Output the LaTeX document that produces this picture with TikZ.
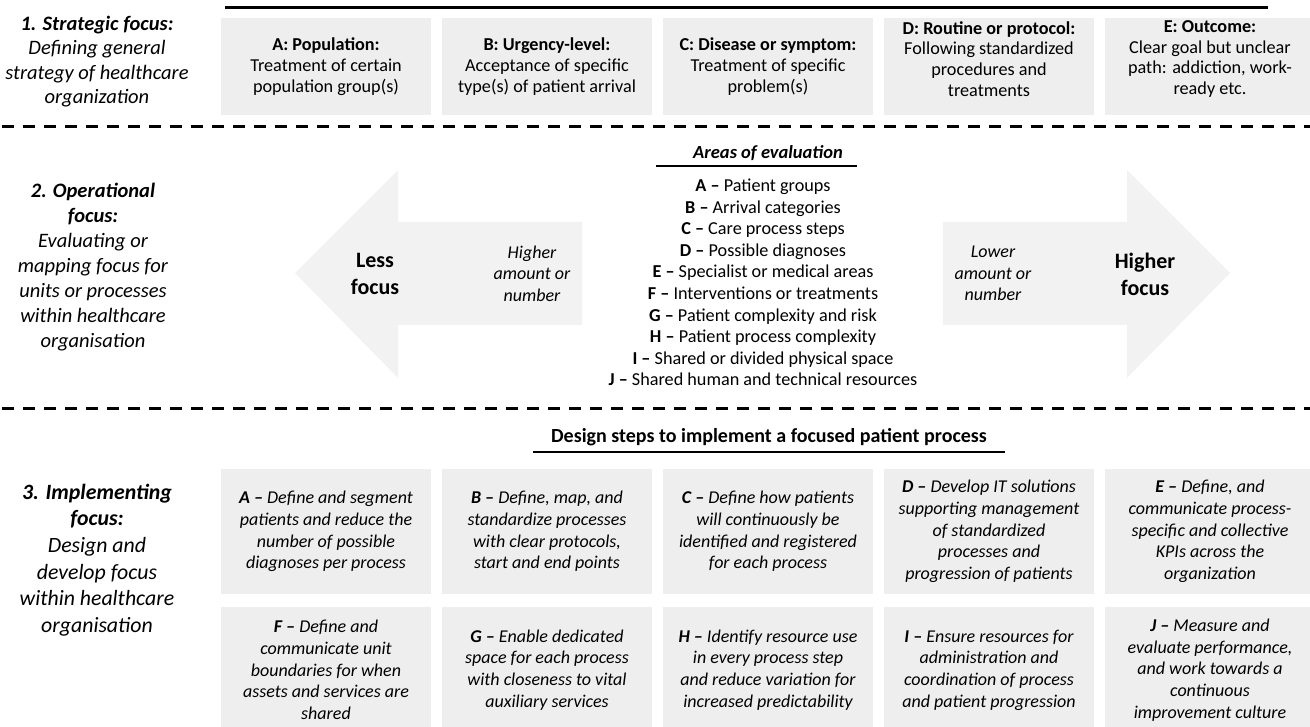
\documentclass[tikz,border=0pt]{standalone}
\usepackage{fontspec}
\setmainfont{Carlito}
\definecolor{boxgray}{HTML}{EEEEEE}
\definecolor{arrowgray}{HTML}{F2F2F2}
\begin{document}
\begin{tikzpicture}[x=1pt,y=-1pt,
  panel/.style={rectangle,fill=boxgray,inner sep=0pt,minimum width=210pt,align=center},
  topbox/.style={panel,minimum height=97pt,font=\fontsize{18.2}{20.7}\selectfont},
  stepbox/.style={panel,minimum height=125pt,font=\fontsize{18}{21.7}\selectfont\itshape},
  lowbox/.style={panel,minimum height=126pt,font=\fontsize{18}{21.7}\selectfont\itshape},
  sidelabel/.style={align=center,inner sep=0pt},
  plain/.style={align=center,inner sep=0pt,font=\fontsize{18}{21.5}\selectfont},
  bigword/.style={align=center,inner sep=0pt,font=\fontsize{22}{27}\selectfont\bfseries},
  divider/.style={line width=3pt,dash pattern=on 12pt off 9pt},
  rule/.style={line width=1.6pt}]
\useasboundingbox (0,0) rectangle (1310,727);

% ---- section rules ----
\coordinate (topL) at (225,7.5);
\coordinate (topR) at (1268,7.5);
\draw[line width=3pt] (topL) -- (topR);
\coordinate (d1L) at (2,127);
\coordinate (d1R) at (1310,127);
\draw[divider] (d1L) -- (d1R);
\coordinate (d2L) at (2,409);
\coordinate (d2R) at (1310,409);
\draw[divider] (d2L) -- (d2R);

% ---- left column labels ----
\node[sidelabel,font=\fontsize{20.5}{24.5}\selectfont\itshape] (lab1) at (97,61.5)
  {\textbf{1. Strategic focus:}\\Defining general\\strategy of healthcare\\organization};
\node[sidelabel,font=\fontsize{20.5}{25}\selectfont\itshape] (lab2) at (93,267.5)
  {\textbf{2. Operational}\\\textbf{focus:}\\Evaluating or\\mapping focus for\\units or processes\\within healthcare\\organisation};
\node[sidelabel,font=\fontsize{21.8}{26.7}\selectfont\itshape] (lab3) at (97,560)
  {\textbf{3. Implementing}\\\textbf{focus:}\\Design and\\develop focus\\within healthcare\\organisation};

% ---- strategic focus boxes ----
\node[topbox] (sA) at (326,66.5) {\textbf{A: Population:}\\Treatment of certain\\population group(s)};
\node[topbox] (sB) at (547,66.5) {\textbf{B: Urgency-level:}\\Acceptance of specific\\type(s) of patient arrival};
\node[topbox] (sC) at (768,66.5) {\textbf{C: Disease or symptom:}\\Treatment of specific\\problem(s)};
\node[topbox] (sD) at (989,66.5) {};
\node[topbox] (sE) at (1210,66.5) {};
\node[plain,font=\fontsize{18.2}{20.7}\selectfont] (sDt) at (989,59)
  {\textbf{D: Routine or protocol:}\\Following standardized\\procedures and\\treatments};
\node[plain,font=\fontsize{18.2}{20.7}\selectfont] (sEt) at (1210,59)
  {\textbf{E: Outcome:}\\Clear goal but unclear\\path: addiction, work-\\ready etc.};

% ---- operational focus arrows ----
\fill[arrowgray] (295,273) -- (398,170) -- (398,222) -- (582,222) -- (582,325)
  -- (398,325) -- (398,378) -- cycle;
\fill[arrowgray] (943,222) -- (1127,222) -- (1127,170) -- (1230,273) -- (1127,378)
  -- (1127,325) -- (943,325) -- cycle;
\node[bigword] (less) at (375,273.5) {Less\\focus};
\node[plain,font=\fontsize{18}{21.5}\selectfont\itshape] (hiamt) at (532,273.5) {Higher\\amount or\\number};
\node[plain,font=\fontsize{18}{21.5}\selectfont\itshape] (loamt) at (993,273.5) {Lower\\amount or\\number};
\node[bigword] (higher) at (1145,274.5) {Higher\\focus};

% ---- areas of evaluation ----
\node[inner sep=0pt,font=\fontsize{18.5}{22}\selectfont\bfseries\itshape] (areas) at (768,153) {Areas of evaluation};
\coordinate (auL) at (656,166);
\coordinate (auR) at (857,166);
\draw[rule] (auL) -- (auR);
\node[plain,font=\fontsize{18.2}{21.55}\selectfont] (alist) at (763,282.5)
  {\textbf{A –} Patient groups\\
   \textbf{B –} Arrival categories\\
   \textbf{C –} Care process steps\\
   \textbf{D –} Possible diagnoses\\
   \textbf{E –} Specialist or medical areas\\
   \textbf{F –} Interventions or treatments\\
   \textbf{G –} Patient complexity and risk\\
   \textbf{H –} Patient process complexity\\
   \textbf{I –} Shared or divided physical space\\
   \textbf{J –} Shared human and technical resources};

% ---- implementing focus ----
\node[inner sep=0pt,font=\fontsize{20}{24}\selectfont\bfseries] (design) at (769,437)
  {Design steps to implement a focused patient process};
\coordinate (duL) at (533,452);
\coordinate (duR) at (1005,452);
\draw[rule] (duL) -- (duR);

\node[stepbox] (iA) at (326,531.5) {\textbf{A –} Define and segment\\patients and reduce the\\number of possible\\diagnoses per process};
\node[stepbox] (iB) at (547,531.5) {\textbf{B –} Define, map, and\\standardize processes\\with clear protocols,\\start and end points};
\node[stepbox] (iC) at (768,531.5) {\textbf{C –} Define how patients\\will continuously be\\identified and registered\\for each process};
\node[stepbox] (iD) at (989,531.5) {\textbf{D –} Develop IT solutions\\supporting management\\of standardized\\processes and\\progression of patients};
\node[stepbox] (iE) at (1210,531.5) {\textbf{E –} Define, and\\communicate process-\\specific and collective\\KPIs across the\\organization};

\node[lowbox] (iF) at (326,670) {\textbf{F –} Define and\\communicate unit\\boundaries for when\\assets and services are\\shared};
\node[lowbox] (iG) at (547,670) {\textbf{G –} Enable dedicated\\space for each process\\with closeness to vital\\auxiliary services};
\node[lowbox] (iH) at (768,670) {\textbf{H –} Identify resource use\\in every process step\\and reduce variation for\\increased predictability};
\node[lowbox] (iI) at (989,670) {\textbf{I –} Ensure resources for\\administration and\\coordination of process\\and patient progression};
\node[lowbox] (iJ) at (1210,670) {\textbf{J –} Measure and\\evaluate performance,\\and work towards a\\continuous\\improvement culture};
\end{tikzpicture}
\end{document}
